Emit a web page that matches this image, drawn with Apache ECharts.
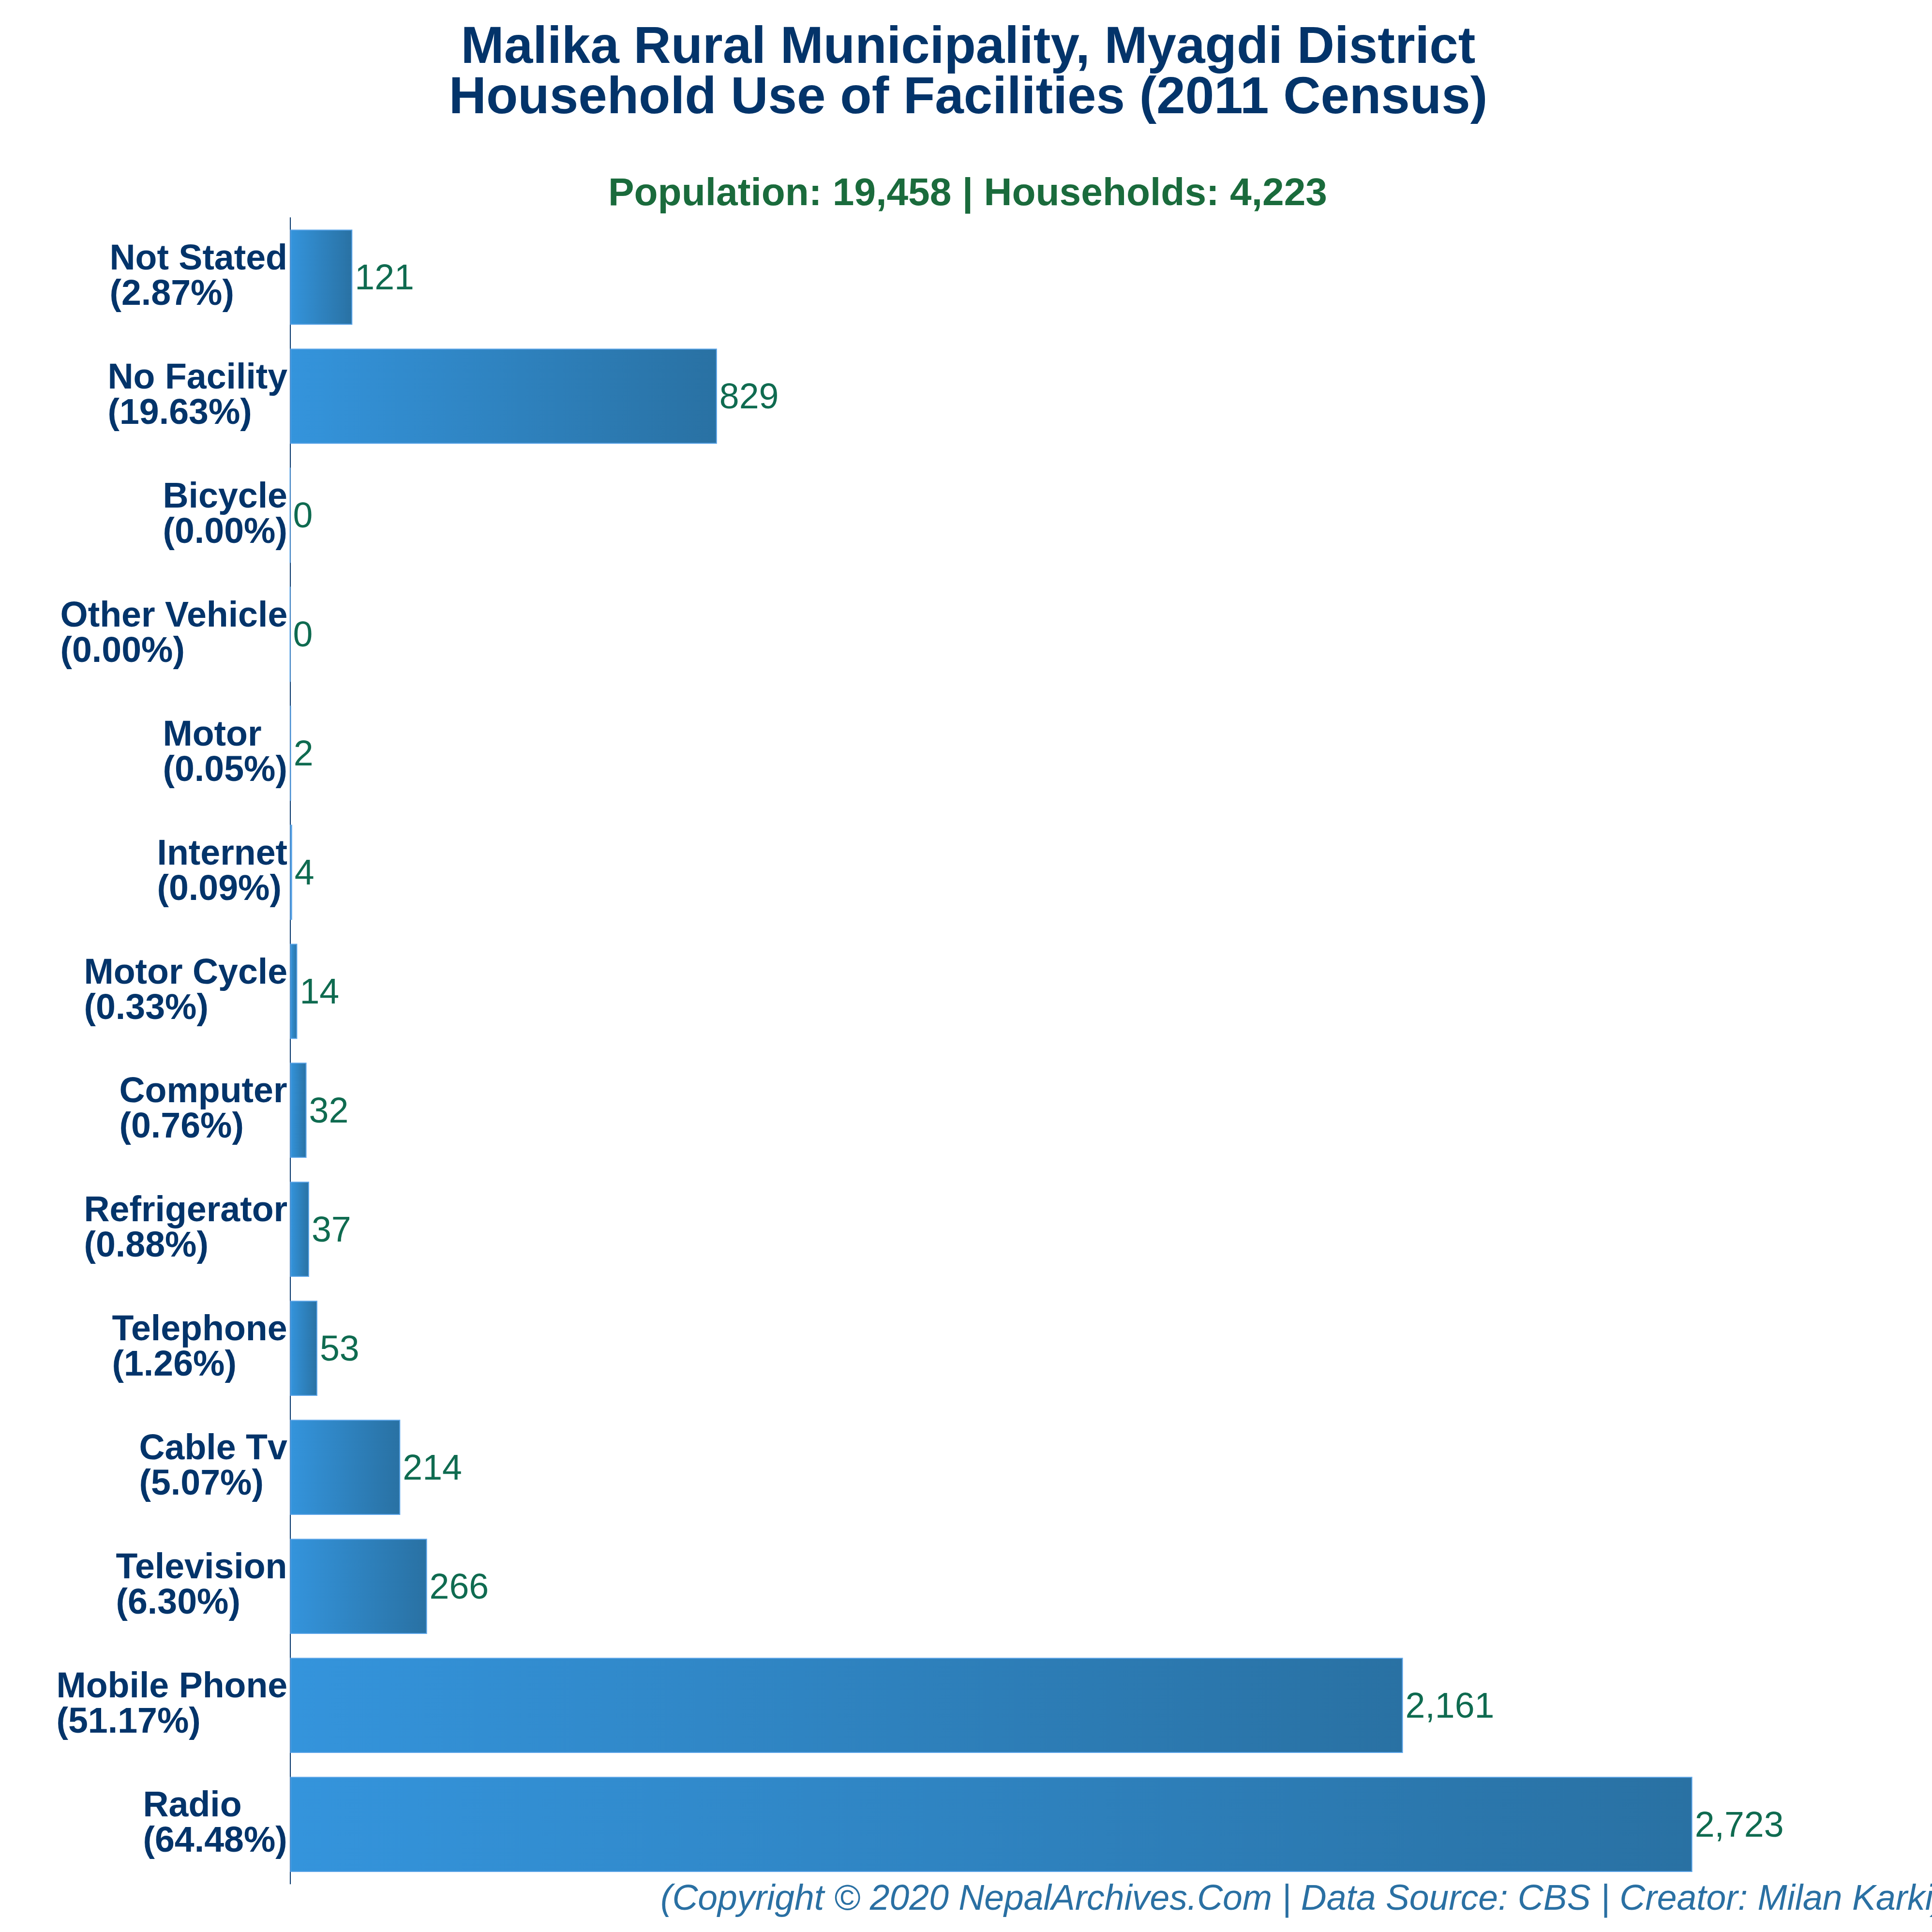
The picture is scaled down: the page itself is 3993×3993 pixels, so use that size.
<!DOCTYPE html>
<html>
<head>
<meta charset="utf-8">
<title>Malika Rural Municipality</title>
<script src="https://cdn.jsdelivr.net/npm/echarts@6/dist/echarts.min.js"></script>
<style>
  html, body { margin: 0; padding: 0; background: #fff; }
  #chart { width: 3993px; height: 3993px; }
</style>
</head>
<body>
<div id="chart"></div>
<script>
// bottom to top, same as the category axis
const facilities = ["Radio", "Mobile Phone", "Television", "Cable Tv", "Telephone", "Refrigerator", "Computer",
    "Motor Cycle", "Internet", "Motor", "Other Vehicle", "Bicycle", "No Facility", "Not Stated"];
const households = [2723, 2161, 266, 214, 53, 37, 32, 14, 4, 2, 0, 0, 829, 121];
const shares = ["64.48%", "51.17%", "6.30%", "5.07%", "1.26%", "0.88%", "0.76%", "0.33%", "0.09%", "0.05%", "0.00%", "0.00%", "19.63%", "2.87%"];

const font = '"Liberation Sans", Arial, sans-serif';
const labelFontSize = 73.5;

// each label is a left aligned block, so give both lines the width of the longer one
const ctx = document.createElement("canvas").getContext("2d");
ctx.font = "bold " + labelFontSize + "px " + font;
const rich = {};
const categories = facilities.map(function (name, i) {
    const share = "(" + shares[i] + ")";
    rich["r" + i] = {
        width: Math.ceil(Math.max(ctx.measureText(name).width, ctx.measureText(share).width)),
        align: "left",
        fontSize: labelFontSize,
        fontWeight: "bold",
        fontFamily: font,
        color: "#03346A",
        lineHeight: 73
    };
    return "{r" + i + "|" + name + "}\n{r" + i + "|" + share + "}";
});

const chart = echarts.init(document.getElementById("chart"), null, {renderer: "canvas"});
chart.setOption({
    animation: false,
    backgroundColor: "#ffffff",
    title: [
        {
            text: "Malika Rural Municipality, Myagdi District\nHousehold Use of Facilities (2011 Census)",
            left: 1996,
            top: 43,
            textAlign: "center",
            textStyle: {fontFamily: font, fontSize: 107, fontWeight: "bold", color: "#03346A", lineHeight: 104}
        },
        {
            text: "Population: 19,458 | Households: 4,223",
            left: 1995,
            top: 357,
            textAlign: "center",
            textStyle: {fontFamily: font, fontSize: 80.3, fontWeight: "bold", color: "#1A6B3C"}
        },
        {
            text: "(Copyright © 2020 NepalArchives.Com | Data Source: CBS | Creator: Milan Karki)",
            left: 1360,
            top: 3885,
            textStyle: {fontFamily: font, fontSize: 73.3, fontWeight: "normal", fontStyle: "italic", color: "#2A70A3"}
        }
    ],
    grid: {left: 599.5, top: 450, width: 3193, height: 3443.5},
    xAxis: {type: "value", min: 0, max: 3000, show: false},
    yAxis: {
        type: "category",
        data: categories,
        axisLine: {show: true, lineStyle: {color: "#03346A", width: 2}},
        axisTick: {show: false},
        axisLabel: {margin: 5, rich: rich, verticalAlign: "middle"}
    },
    series: [{
        type: "bar",
        data: households,
        barWidth: "80%",
        itemStyle: {
            color: new echarts.graphic.LinearGradient(0, 0, 1, 0, [
                {offset: 0, color: "#3494DC"},
                {offset: 1, color: "#2971A3"}
            ]),
            borderColor: "#5DA5E8",
            borderWidth: 2
        },
        label: {
            show: true,
            position: "right",
            distance: 4,
            offset: [1, 5],
            fontFamily: font,
            fontSize: 73.5,
            color: "#0F6B50",
            formatter: function (p) { return p.value.toLocaleString("en-US"); }
        }
    }]
});
</script>
</body>
</html>
